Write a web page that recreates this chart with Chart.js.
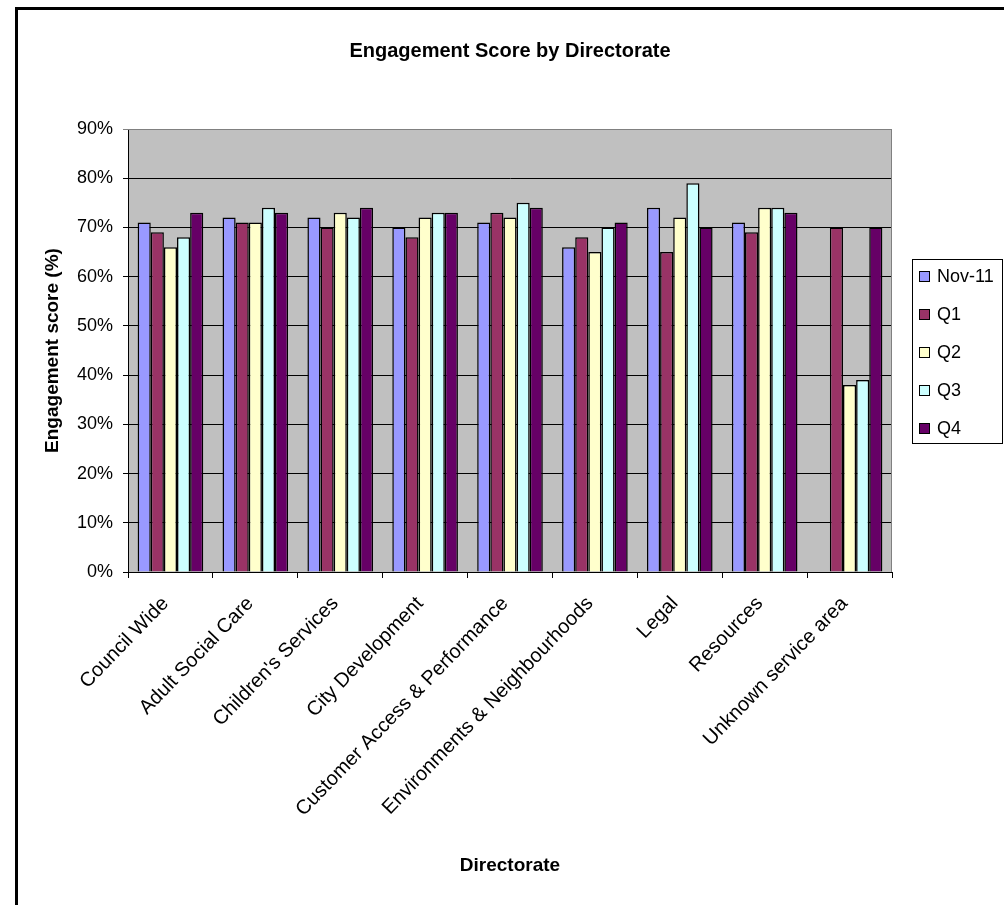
<!DOCTYPE html>
<html>
<head>
<meta charset="utf-8">
<title>Engagement Score by Directorate</title>
<script src="https://cdn.jsdelivr.net/npm/chart.js@4.4.1/dist/chart.umd.min.js"></script>
<style>
  body { margin: 0; background: #fff; }
  #wrap { width: 1004px; height: 905px; }
</style>
</head>
<body>
<div id="wrap"><canvas id="chart" width="1004" height="905"></canvas></div>
<script>
// directorates along the x axis
var directorates = ['Council Wide', 'Adult Social Care', "Children's Services", 'City Development',
  'Customer Access & Performance', 'Environments & Neighbourhoods', 'Legal', 'Resources', 'Unknown service area'];

// engagement score (%) per survey
var nov11 = [71, 72, 72, 70, 71, 66, 74, 71, null];
var q1 = [69, 71, 70, 68, 73, 68, 65, 69, 70];
var q2 = [66, 71, 73, 72, 72, 65, 72, 74, 38];
var q3 = [68, 74, 72, 73, 75, 70, 79, 74, 39];
var q4 = [73, 73, 74, 73, 74, 71, 70, 73, 70];

var yTicks = [0, 10, 20, 30, 40, 50, 60, 70, 80, 90];

Chart.defaults.font.family = "'Liberation Sans', Arial, sans-serif";
Chart.defaults.color = '#000';

function bars(label, data, colour) {
  return {
    label: label,
    data: data,
    backgroundColor: colour,
    borderColor: '#000',
    borderWidth: 1.5,
    categoryPercentage: 0.773,
    barPercentage: 1.0
  };
}

// grey plot area, like the old Excel default
var plotArea = {
  id: 'plotArea',
  beforeDraw: function(chart) {
    var a = chart.chartArea, c = chart.ctx;
    c.save();
    c.fillStyle = '#C0C0C0';
    c.fillRect(a.left, a.top, a.right - a.left, a.bottom - a.top);
    c.restore();
  },
  afterDatasetsDraw: function(chart) {
    var a = chart.chartArea, c = chart.ctx;
    c.save();
    c.strokeStyle = '#808080';
    c.lineWidth = 1;
    c.beginPath();
    c.moveTo(a.left, a.top + 0.5);
    c.lineTo(a.right - 0.5, a.top + 0.5);
    c.lineTo(a.right - 0.5, a.bottom);
    c.stroke();
    c.restore();
  }
};

// boxed legend on the right and the chart's outer frame
var boxLegend = {
  id: 'boxLegend',
  afterDraw: function(chart) {
    var c = chart.ctx;
    var x = 912, y = 259, w = 90, h = 184;
    c.save();
    c.fillStyle = '#fff';
    c.fillRect(x, y, w, h);
    c.strokeStyle = '#000';
    c.lineWidth = 1;
    c.strokeRect(x + 0.5, y + 0.5, w, h);
    c.font = "18px 'Liberation Sans', Arial, sans-serif";
    c.textBaseline = 'middle';
    chart.data.datasets.forEach(function(ds, i) {
      var cy = y + 17 + i * 38;
      c.fillStyle = ds.backgroundColor;
      c.fillRect(919, cy - 5, 11, 11);
      c.strokeRect(919.5, cy - 4.5, 10, 10);
      c.fillStyle = '#000';
      c.fillText(ds.label, 937, cy + 1);
    });
    c.lineWidth = 3;
    c.strokeRect(16.5, 8.5, 1200, 1200);
    c.restore();
  }
};

new Chart(document.getElementById('chart'), {
  type: 'bar',
  data: {
    labels: directorates,
    datasets: [
      bars('Nov-11', nov11, '#9999FF'),
      bars('Q1', q1, '#993366'),
      bars('Q2', q2, '#FFFFCC'),
      bars('Q3', q3, '#CCFFFF'),
      bars('Q4', q4, '#660066')
    ]
  },
  options: {
    responsive: false,
    animation: false,
    layout: { padding: { left: 18, top: 10, right: 112, bottom: 0 } },
    plugins: {
      legend: { display: false },
      tooltip: { enabled: false },
      title: {
        display: true,
        fullSize: false,
        text: 'Engagement Score by Directorate',
        font: { size: 20, weight: 'bold' },
        color: '#000',
        padding: { top: 29, bottom: 66 }
      }
    },
    scales: {
      x: {
        grid: { drawOnChartArea: false, color: '#000', tickLength: 6, offset: true },
        border: { color: '#000' },
        ticks: {
          autoSkip: false, minRotation: 46, maxRotation: 46,
          font: { size: 20 }, padding: 14, labelOffset: -5
        },
        title: {
          display: true,
          text: 'Directorate',
          font: { size: 19, weight: 'bold' },
          padding: { top: 28, bottom: 28 }
        },
        afterFit: function(s) { s.height = 333; }
      },
      y: {
        min: 0,
        max: 90,
        afterBuildTicks: function(s) { s.ticks = yTicks.map(function(v) { return { value: v }; }); },
        grid: {
          color: function(ctx) { return ctx.tick && ctx.tick.value === 90 ? '#808080' : '#000'; },
          tickLength: 5
        },
        border: { color: '#000' },
        ticks: {
          font: { size: 18 },
          padding: 10,
          callback: function(v) { return v + '%'; }
        },
        title: {
          display: true,
          text: 'Engagement score (%)',
          font: { size: 19, weight: 'bold' },
          padding: { top: 23, bottom: 23 }
        },
        afterFit: function(s) { s.width = 110; }
      }
    }
  },
  plugins: [plotArea, boxLegend]
});
</script>
</body>
</html>
